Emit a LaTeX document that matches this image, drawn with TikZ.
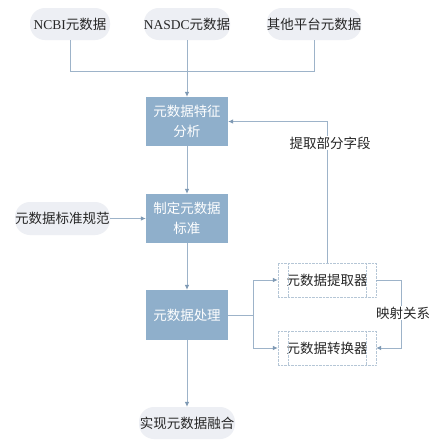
\documentclass[tikz,border=0pt]{standalone}
\usepackage{fontspec}
\setmainfont{Liberation Serif}
\newfontfamily\cjk{Noto Sans CJK SC}
\usetikzlibrary{arrows.meta,calc}
\definecolor{boxc}{HTML}{8FAFCB}
\definecolor{pillc}{HTML}{EDEFF4}
\definecolor{linec}{HTML}{9DB3C9}
\definecolor{arrc}{HTML}{7E99B4}
\definecolor{dashc}{HTML}{B5C6D6}
\tikzset{
  x=1pt,y=-1pt,
  every node/.style={font=\cjk\fontsize{13.5}{20}\selectfont, inner sep=0pt},
  bluebox/.style={fill=boxc, text=white, minimum width=82pt, minimum height=49pt, align=center},
  pill/.style={fill=pillc, rounded corners=15pt, minimum height=32pt, text=black!85},
  toolbox/.style={draw=dashc, densely dotted, minimum width=98pt, minimum height=34pt, text=black!85},
  conn/.style={draw=linec, line width=0.8pt},
  arr/.style={conn, -{Latex[length=5pt,width=4.5pt,color=arrc]}},
  lbl/.style={fill=white, text=black!85, inner sep=1pt}
}
\begin{document}
\begin{tikzpicture}
\useasboundingbox (0,0) rectangle (436,448);
\fill[white] (0,0) rectangle (436,448);
% top pills
\node[pill, minimum width=80pt] (ncbi) at (70,24) {{\rmfamily NCBI}元数据};
\node[pill, minimum width=80pt] (nasdc) at (187,24) {{\rmfamily NASDC}元数据};
\node[pill, minimum width=92pt] (other) at (314,24) {其他平台元数据};
% main boxes
\node[bluebox] (b1) at (187,121.5) {元数据特征\\分析};
\node[bluebox] (b2) at (187,218.5) {制定元数据\\标准};
\node[bluebox, minimum height=50pt] (b3) at (187,315) {元数据处理};
\node[pill, minimum width=95pt, minimum height=33pt] (std) at (62.5,218.5) {元数据标准规范};
\node[pill, minimum width=96pt] (fin) at (187,423) {实现元数据融合};
% tool boxes
\node[toolbox] (ext) at (327,280) {元数据提取器};
\node[toolbox] (conv) at (327,348) {元数据转换器};
\foreach \n in {ext,conv}{
  \draw[dashc, densely dotted] ($(\n.north west)+(10,0)$) -- ($(\n.south west)+(10,0)$);
  \draw[dashc, densely dotted] ($(\n.north east)+(-10,0)$) -- ($(\n.south east)+(-10,0)$);
}
% connectors top
\coordinate (m) at (187,71);
\draw[conn] (ncbi.south) -- (ncbi.south |- m) -- (other.south |- m) -- (other.south);
\draw[arr] (nasdc.south) -- (b1.north);
\draw[arr] (b1.south) -- (b2.north);
\draw[arr] (std.east) -- (b2.west);
\draw[arr] (b2.south) -- (b3.north);
\draw[arr] (b3.south) -- (fin.north);
% split
\coordinate (sp) at (253,315);
\draw[conn] (b3.east) -- (sp);
\draw[arr] (sp) |- (ext.west);
\draw[arr] (sp) |- (conv.west);
% feedback
\draw[arr] (ext.north) |- (b1.east);
\node[lbl] (l1) at (330,143) {提取部分字段};
% mapping
\coordinate (mp) at (401,280);
\draw[arr] (ext.east) -- (mp) |- (conv.east);
\node[lbl] (l2) at (403,313) {映射关系};
\end{tikzpicture}
\end{document}
